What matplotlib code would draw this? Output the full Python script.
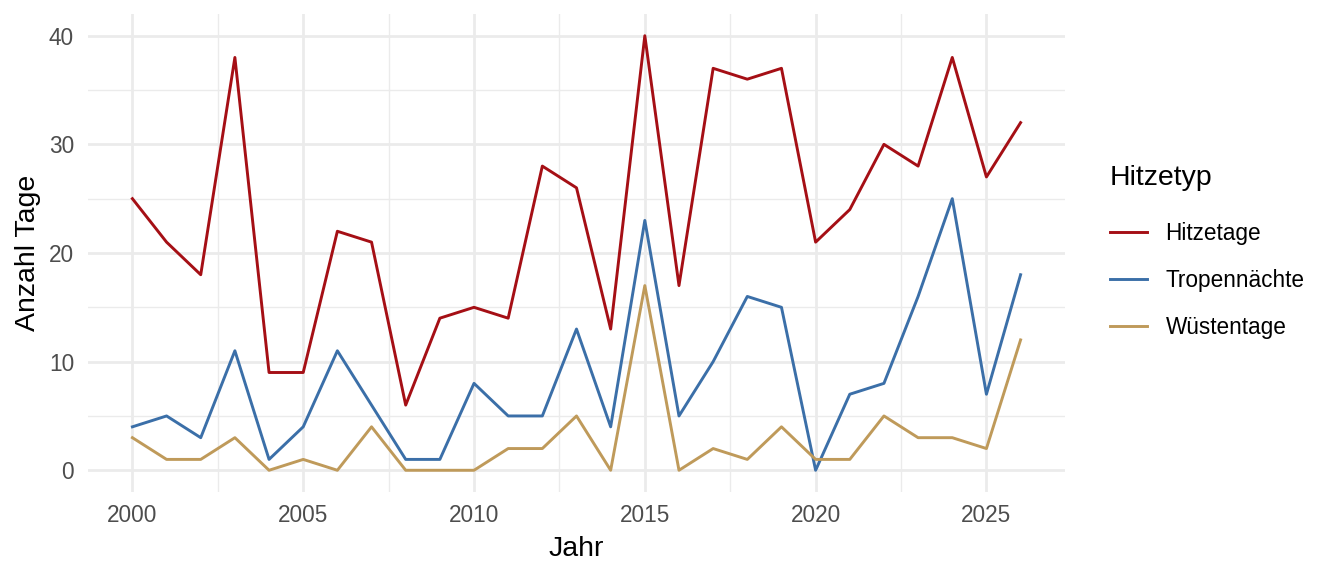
import numpy as np
import matplotlib
matplotlib.use('Agg')
import matplotlib.pyplot as plt
from matplotlib.ticker import MultipleLocator

plt.rcParams['font.family'] = ['Liberation Sans', 'DejaVu Sans']

jahre = list(range(2000, 2027))
hitzetage = [25, 21, 18, 38, 9, 9, 22, 21, 6, 14, 15, 14, 28, 26, 13, 40,
             17, 37, 36, 37, 21, 24, 30, 28, 38, 27, 32]
tropennaechte = [4, 5, 3, 11, 1, 4, 11, 6, 1, 1, 8, 5, 5, 13, 4, 23,
                 5, 10, 16, 15, 0, 7, 8, 16, 25, 7, 18]
wuestentage = [3, 1, 1, 3, 0, 1, 0, 4, 0, 0, 0, 2, 2, 5, 0, 17,
               0, 2, 1, 4, 1, 1, 5, 3, 3, 2, 12]

serien = [('Hitzetage', hitzetage, '#A50F15'),
          ('Tropennächte', tropennaechte, '#3B6FA8'),
          ('Wüstentage', wuestentage, '#BF9A5A')]

fig = plt.figure(figsize=(13.44, 5.76), dpi=100)
ax = fig.add_axes([88 / 1344, 1 - 492 / 576, (1065 - 88) / 1344, (492 - 14) / 576])

for name, werte, farbe in serien:
    ax.plot(jahre, werte, color=farbe, lw=2.1, label=name)

span = jahre[-1] - jahre[0]
ax.set_xlim(jahre[0] - 0.05 * span, jahre[-1] + 0.05 * span)
ax.set_ylim(-2, 42)
ax.xaxis.set_major_locator(MultipleLocator(5))
ax.xaxis.set_minor_locator(MultipleLocator(2.5))
ax.yaxis.set_major_locator(MultipleLocator(10))
ax.yaxis.set_minor_locator(MultipleLocator(5))
ax.grid(which='major', color='#EBEBEB', lw=2.0)
ax.grid(which='minor', color='#EBEBEB', lw=1.0)
ax.set_axisbelow(True)
for s in ax.spines.values():
    s.set_visible(False)
ax.tick_params(which='both', length=0)
ax.tick_params(labelsize=16.3, labelcolor='#4D4D4D')
ax.tick_params(axis='y', pad=10)
ax.tick_params(axis='x', pad=9)

ax.set_xlabel('Jahr', fontsize=20.5, color='black', labelpad=6)
ax.set_ylabel('Anzahl Tage', fontsize=20.5, color='black', labelpad=5.5)

leg = fig.legend(loc='center left', bbox_to_anchor=(1110 / 1344, 1 - 252 / 576),
                 frameon=False, borderpad=0, borderaxespad=0,
                 title='Hitzetyp', fontsize=16.3, title_fontsize=20.5,
                 handlelength=1.65, handletextpad=0.8, labelspacing=1.05)
leg._legend_box.align = 'left'
leg._legend_box.sep = 1.05 * 16.3 + 5

fig.savefig('out.png', dpi=100, facecolor='white')
